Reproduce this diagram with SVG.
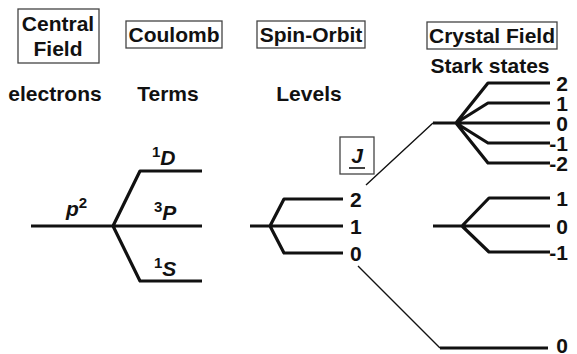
<svg xmlns="http://www.w3.org/2000/svg" width="577" height="354" viewBox="0 0 577 354">
<style>
text{font-family:"Liberation Sans",Arial,sans-serif;font-weight:bold;font-size:21px;fill:#111}
.box{fill:none;stroke:#444;stroke-width:1.3}
.thick{fill:none;stroke:#111;stroke-width:3.2;stroke-linejoin:round}
.thin{fill:none;stroke:#111;stroke-width:1.4}
.it{font-style:italic}
.sup{font-size:15px}
.lbl{text-anchor:end}
</style>
<rect width="577" height="354" fill="#fff"/>
<g id="hdr-central"><rect class="box" x="18" y="9" width="81" height="54"/><text x="58" y="31" text-anchor="middle">Central</text><text x="58" y="56" text-anchor="middle">Field</text></g>
<g id="hdr-coulomb"><rect class="box" x="126" y="21" width="96" height="27"/><text x="174" y="42" text-anchor="middle">Coulomb</text></g>
<g id="hdr-spin"><rect class="box" x="257" y="21" width="108" height="27"/><text x="311" y="42" text-anchor="middle">Spin-Orbit</text></g>
<g id="hdr-crystal"><rect class="box" x="427" y="22" width="130" height="27"/><text x="492" y="43" text-anchor="middle">Crystal Field</text></g>
<g id="sub-stark"><text x="490" y="73" text-anchor="middle">Stark states</text></g>
<g id="sub-electrons"><text x="55" y="101" text-anchor="middle">electrons</text></g>
<g id="sub-terms"><text x="168" y="101" text-anchor="middle">Terms</text></g>
<g id="sub-levels"><text x="309" y="101" text-anchor="middle">Levels</text></g>
<g id="jbox"><rect class="box" x="340" y="137" width="34" height="37"/><text class="it" x="357" y="163" text-anchor="middle">J</text><line x1="349" y1="168" x2="365" y2="168" stroke="#111" stroke-width="1.6"/></g>
<g id="connectors">
<path class="thick" d="M31 226H202M113 226L140 171H202M113 226L140 281H202"/>
<path class="thick" d="M250 226H343M270 226L284 199H343M270 226L284 253H343"/>
<path class="thin" d="M366 185L433 123M358 266L440 348"/>
<path class="thick" d="M433 123H550M456 123L488 83H550M456 123L488 103H550M456 123L488 143H550M456 123L488 163H550"/>
<path class="thick" d="M433 226H550M462 226L489 198H550M462 226L489 252H550"/>
<path class="thick" d="M440 348H548"/>
</g>
<g id="term-labels">
<text x="66" y="216"><tspan class="it">p</tspan><tspan class="sup" dy="-8">2</tspan></text>
<text x="152" y="165"><tspan class="sup" dy="-8">1</tspan><tspan class="it" dy="8">D</tspan></text>
<text x="154" y="220"><tspan class="sup" dy="-8">3</tspan><tspan class="it" dy="8">P</tspan></text>
<text x="154" y="276"><tspan class="sup" dy="-8">1</tspan><tspan class="it" dy="8">S</tspan></text>
</g>
<g id="level-labels">
<text x="350" y="207">2</text>
<text x="350" y="234">1</text>
<text x="350" y="261">0</text>
</g>
<g id="stark-labels">
<text class="lbl" x="568" y="91">2</text>
<text class="lbl" x="568" y="111">1</text>
<text class="lbl" x="568" y="131">0</text>
<text class="lbl" x="568" y="151">-1</text>
<text class="lbl" x="568" y="171">-2</text>
<text class="lbl" x="568" y="206">1</text>
<text class="lbl" x="568" y="234">0</text>
<text class="lbl" x="568" y="260">-1</text>
<text class="lbl" x="568" y="353">0</text>
</g>
</svg>
